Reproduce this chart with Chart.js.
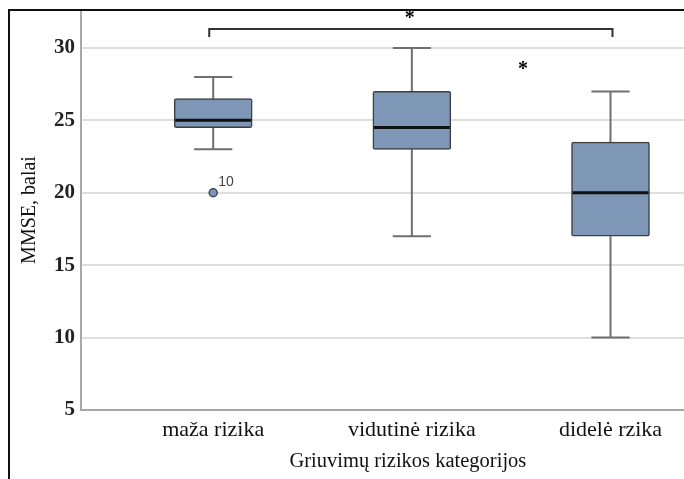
<!DOCTYPE html>
<html>
<head>
<meta charset="utf-8">
<script src="https://cdn.jsdelivr.net/npm/chart.js@4.4.1/dist/chart.umd.min.js"></script>
<style>
  html, body { margin: 0; padding: 0; background: #fff; overflow: hidden; }
  #wrap { width: 684px; height: 479px; position: relative; }
</style>
</head>
<body>
<div id="wrap"><canvas id="chart"></canvas></div>
<script>
// box plot values
const categories = ['maža rizika', 'vidutinė rizika', 'didelė rzika'];
const whiskerLow = [23, 17, 10];
const q1 = [24.5, 23, 17];
const median = [25, 24.5, 20];
const q3 = [26.5, 27, 23.5];
const whiskerHigh = [28, 30, 27];

const outlierCat = [0];
const outlierValue = [20];
const outlierLabel = ['10'];

const yTicks = [5, 10, 15, 20, 25, 30];

// significance marks: bracket between groups 0 and 2, plus one loose star
const bracketFrom = -0.02;
const bracketTo = 2.01;
const bracketLevel = 31.3;
const bracketTip = 30.75;
const starX = [0.99, 1.56];
const starY = [32.35, 28.85];

const boxColor = '#7f97b7';
const serif = "'Liberation Serif', 'Times New Roman', serif";

const boxParts = {
    id: 'boxParts',
    beforeDatasetsDraw(chart) {
        const ctx = chart.ctx;
        const y = chart.scales.y;
        const meta = chart.getDatasetMeta(0);
        ctx.save();
        ctx.strokeStyle = '#6f6f6f';
        ctx.lineWidth = 2;
        meta.data.forEach((el, i) => {
            const capHalf = el.width * 0.245;
            const yLow = y.getPixelForValue(whiskerLow[i]);
            const yHigh = y.getPixelForValue(whiskerHigh[i]);
            ctx.beginPath();
            ctx.moveTo(el.x, yLow);
            ctx.lineTo(el.x, y.getPixelForValue(q1[i]));
            ctx.moveTo(el.x, y.getPixelForValue(q3[i]));
            ctx.lineTo(el.x, yHigh);
            ctx.moveTo(el.x - capHalf, yLow);
            ctx.lineTo(el.x + capHalf, yLow);
            ctx.moveTo(el.x - capHalf, yHigh);
            ctx.lineTo(el.x + capHalf, yHigh);
            ctx.stroke();
        });
        ctx.restore();
    },
    afterDatasetsDraw(chart) {
        const ctx = chart.ctx;
        const x = chart.scales.x;
        const y = chart.scales.y;
        const meta = chart.getDatasetMeta(0);
        ctx.save();
        // medians
        ctx.strokeStyle = '#111';
        ctx.lineWidth = 3;
        meta.data.forEach((el, i) => {
            const ym = y.getPixelForValue(median[i]);
            ctx.beginPath();
            ctx.moveTo(el.x - el.width / 2 + 1, ym);
            ctx.lineTo(el.x + el.width / 2 - 1, ym);
            ctx.stroke();
        });
        // outliers
        outlierValue.forEach((v, i) => {
            const px = x.getPixelForValue(outlierCat[i]);
            const py = y.getPixelForValue(v);
            ctx.beginPath();
            ctx.arc(px, py, 4, 0, Math.PI * 2);
            ctx.fillStyle = boxColor;
            ctx.fill();
            ctx.lineWidth = 1.5;
            ctx.strokeStyle = '#3d4a5c';
            ctx.stroke();
            ctx.fillStyle = '#444';
            ctx.font = "14px 'Liberation Sans', Arial, sans-serif";
            ctx.textAlign = 'left';
            ctx.textBaseline = 'middle';
            ctx.fillText(outlierLabel[i], px + 5, py - 11);
        });
        // bracket
        const bl = x.getPixelForValue(bracketFrom);
        const br = x.getPixelForValue(bracketTo);
        const by = y.getPixelForValue(bracketLevel);
        const bt = y.getPixelForValue(bracketTip);
        ctx.strokeStyle = '#333';
        ctx.lineWidth = 2;
        ctx.beginPath();
        ctx.moveTo(bl, bt);
        ctx.lineTo(bl, by);
        ctx.lineTo(br, by);
        ctx.lineTo(br, bt);
        ctx.stroke();
        // stars
        ctx.fillStyle = '#000';
        ctx.font = 'bold 20px ' + serif;
        ctx.textAlign = 'center';
        ctx.textBaseline = 'alphabetic';
        const m = ctx.measureText('*');
        const off = (m.actualBoundingBoxAscent - m.actualBoundingBoxDescent) / 2;
        starX.forEach((sx, i) => {
            ctx.fillText('*', x.getPixelForValue(sx), y.getPixelForValue(starY[i]) + off);
        });
        ctx.restore();
    },
    afterDraw(chart) {
        const ctx = chart.ctx;
        const area = chart.chartArea;
        ctx.save();
        // x axis title, centred on the middle group
        ctx.fillStyle = '#111';
        ctx.font = '20.5px ' + serif;
        ctx.textAlign = 'center';
        ctx.textBaseline = 'alphabetic';
        ctx.fillText('Griuvimų rizikos kategorijos', chart.scales.x.getPixelForValue(0.98), 467);
        // outer frame
        ctx.strokeStyle = '#111';
        ctx.lineWidth = 2;
        ctx.beginPath();
        ctx.moveTo(8, area.top);
        ctx.lineTo(chart.width, area.top);
        ctx.moveTo(9, area.top);
        ctx.lineTo(9, chart.height);
        ctx.stroke();
        ctx.restore();
    }
};

new Chart(document.getElementById('chart'), {
    type: 'bar',
    data: {
        datasets: [{
            data: categories.map((c, i) => ({ x: i, y: [q1[i], q3[i]] })),
            backgroundColor: boxColor,
            borderColor: '#3f3f3f',
            borderWidth: 1.5,
            borderSkipped: false,
            borderRadius: 2,
            barThickness: 78
        }]
    },
    options: {
        responsive: true,
        maintainAspectRatio: false,
        animation: false,
        layout: { padding: { top: 10, left: 0, right: 0, bottom: 0 } },
        plugins: {
            legend: { display: false },
            tooltip: { enabled: false }
        },
        scales: {
            x: {
                type: 'linear',
                offset: false,
                min: -0.6655,
                max: 2.37,
                afterBuildTicks: scale => { scale.ticks = categories.map((c, i) => ({ value: i })); },
                afterFit: scale => {
                    scale.height = 69;
                    scale.paddingLeft = 0;
                    scale.paddingRight = 0;
                },
                ticks: {
                    callback: v => categories[v],
                    color: '#111',
                    font: { family: serif, size: 22 },
                    padding: 7,
                    maxRotation: 0,
                    autoSkip: false
                },
                grid: { display: false, drawTicks: false },
                border: { color: '#a8a8a8', width: 2 }
            },
            y: {
                min: 5,
                max: 32.62,
                afterBuildTicks: scale => { scale.ticks = yTicks.map(v => ({ value: v })); },
                afterFit: scale => {
                    scale.width = 81;
                    scale.paddingTop = 0;
                    scale.paddingBottom = 0;
                },
                ticks: {
                    color: '#222',
                    font: { family: serif, size: 21, weight: 'bold' },
                    padding: 6
                },
                grid: {
                    drawTicks: false,
                    lineWidth: 2,
                    color: c => c.tick && c.tick.value === 5 ? 'rgba(0,0,0,0)' : '#dedede'
                },
                border: { color: '#a8a8a8', width: 2 },
                title: {
                    display: true,
                    text: 'MMSE, balai',
                    color: '#111',
                    font: { family: serif, size: 20 },
                    padding: { top: 18, bottom: 0 }
                }
            }
        }
    },
    plugins: [boxParts]
});
</script>
</body>
</html>
